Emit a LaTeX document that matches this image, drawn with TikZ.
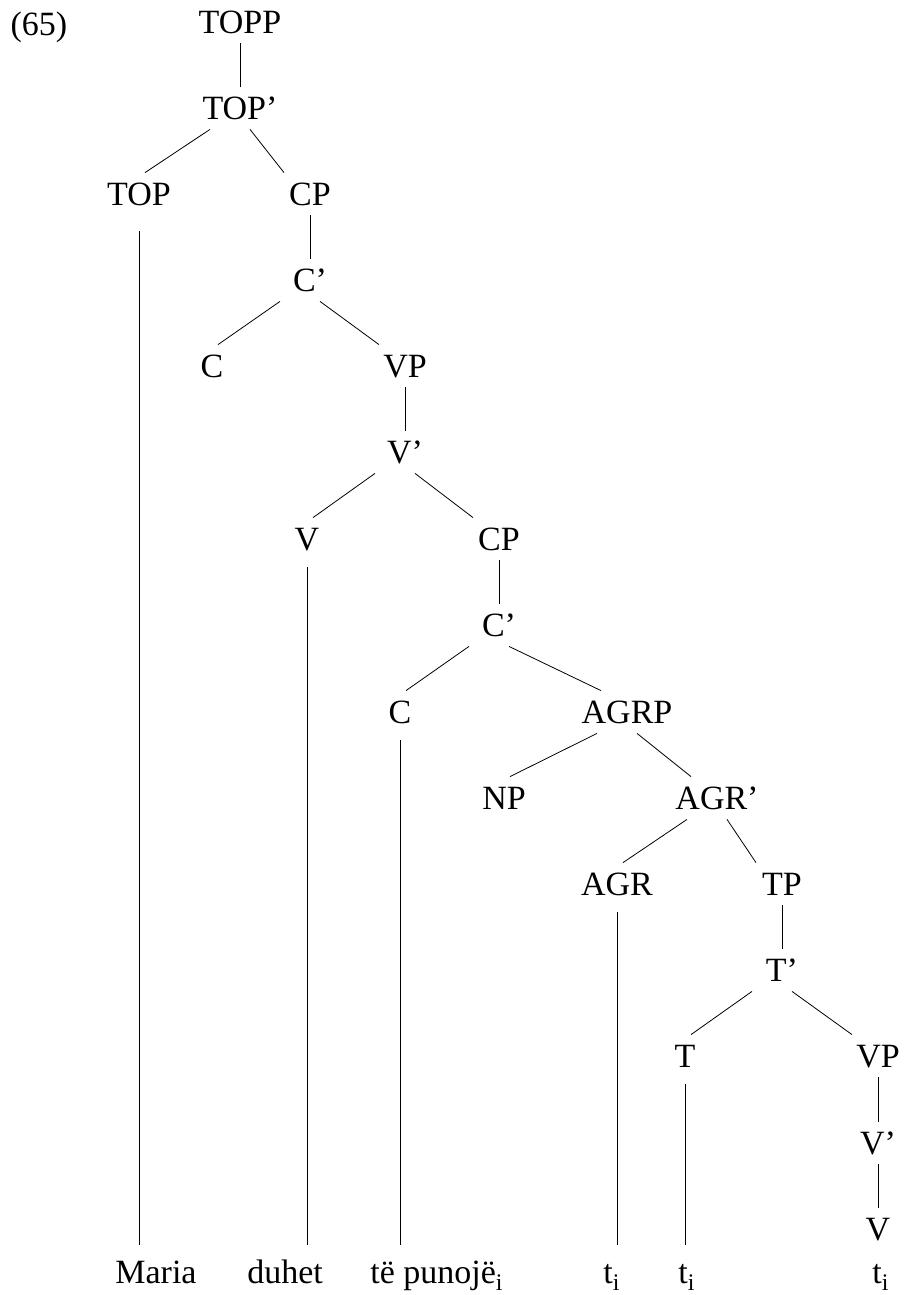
\documentclass[tikz,border=0pt]{standalone}
\usepackage{fontspec}
\setmainfont{Liberation Serif}

\begin{document}
\begin{tikzpicture}[
  x=1bp, y=-1bp,
  font=\fontsize{34bp}{40bp}\selectfont,
  cat/.style={inner sep=0pt, inner xsep=6bp, text height=22bp,
              text depth=0pt, minimum height=42bp},
  leaf/.style={inner sep=0pt, text height=22bp, anchor=base west},
  line width=0.8bp,
]
  \useasboundingbox (0,0) rectangle (906,1295);

  % Example number
  \node[cat] at (39, 24) (ex) {(65)};

  % Top of the tree
  \node[cat] at (240, 22) (topp) {TOPP};
  \node[cat] at (240, 108) (topbar) {TOP'};
  \node[cat] at (139, 194) (top) {TOP};
  \node[cat] at (310, 194) (cp1) {CP};
  \node[cat] at (310, 280) (cbar1) {C'};
  \node[cat] at (212, 366) (c1) {C};
  \node[cat] at (405, 366) (vp1) {VP};
  \node[cat] at (405, 452) (vbar1) {V'};

  % Embedded CP
  \node[cat] at (307, 539) (v1) {V};
  \node[cat] at (499, 539) (cp2) {CP};
  \node[cat] at (499, 625) (cbar2) {C'};
  \node[cat] at (400, 712) (c2) {C};
  \node[cat] at (627, 712) (agrp) {AGRP};
  \node[cat] at (504, 798) (np) {NP};
  \node[cat] at (717, 798) (agrbar) {AGR'};
  \node[cat] at (617, 884) (agr) {AGR};
  \node[cat] at (782, 884) (tp) {TP};
  \node[cat] at (782, 970) (tbar) {T'};
  \node[cat] at (685, 1056) (t) {T};
  \node[cat] at (878, 1056) (vp2) {VP};
  \node[cat] at (878, 1143) (vbar2) {V'};
  \node[cat] at (878, 1229) (v2) {V};

  % Words
  \node[leaf] at (115, 1283) (maria) {Maria};
  \node[leaf] at (247, 1283) (duhet) {duhet};
  \node[leaf] at (370, 1283) (punoje) {të punojë\textsubscript{i}};
  \node[leaf] at (603, 1283) (ti1) {t\textsubscript{i}};
  \node[leaf] at (678, 1283) (ti2) {t\textsubscript{i}};
  \node[leaf] at (872, 1283) (ti3) {t\textsubscript{i}};

  % Unary branches
  \foreach \p/\c in {topp/topbar, cp1/cbar1, vp1/vbar1, cp2/cbar2,
                     tp/tbar, vp2/vbar2, vbar2/v2}
    \draw (\p.south) -- (\c.north);

  % Left branches
  \foreach \p/\c in {topbar/top, cbar1/c1, vbar1/v1, cbar2/c2,
                     agrp/np, agrbar/agr, tbar/t}
    \draw ([xshift=-30bp]\p.south) -- ([xshift=6bp]\c.north);

  % Right branches
  \foreach \p/\c in {topbar/cp1, cbar1/vp1, vbar1/cp2, cbar2/agrp,
                     agrp/agrbar, agrbar/tp, tbar/vp2}
    \draw ([xshift=10bp]\p.south) -- ([xshift=-26bp]\c.north);

  % Lines down to the words
  \draw[shorten <=16bp, shorten >=16bp] (top.south) -- (top.south |- maria.north);
  \foreach \a/\w in {v1/duhet, c2/punoje, agr/ti1, t/ti2}
    \draw[shorten <=7bp, shorten >=16bp] (\a.south) -- (\a.south |- \w.north);
\end{tikzpicture}
\end{document}
